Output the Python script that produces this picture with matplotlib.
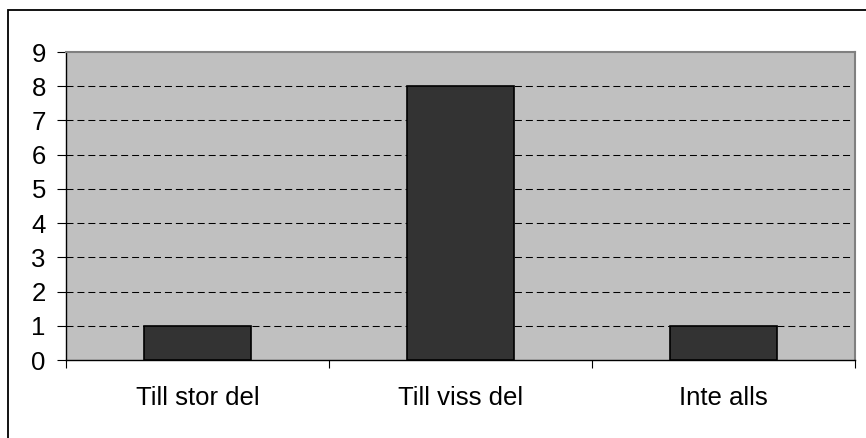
import matplotlib.pyplot as plt
from matplotlib.patches import Rectangle

plt.rcParams['font.family'] = ['Liberation Sans', 'DejaVu Sans']

# data
categories = ['Till stor del', 'Till viss del', 'Inte alls']
values = [1, 8, 1]
yticks = list(range(0, 10))

fig = plt.figure(figsize=(8.66, 4.38), dpi=100)

# outer chart border (only left/top visible in the picture)
fig.add_artist(Rectangle((8 / 866, -0.1), 1.2, (438 - 10) / 438 + 0.1,
                         transform=fig.transFigure, fill=False,
                         edgecolor='black', linewidth=1.3))

ax = fig.add_axes([66 / 866, (438 - 360) / 438, (855 - 66) / 866, (360 - 52) / 438])
ax.set_facecolor('#c0c0c0')

x = range(len(categories))
ax.bar(x, values, width=0.41, color='#333333', edgecolor='black',
       linewidth=1.2, zorder=3)

ax.set_xlim(-0.5, len(categories) - 0.5)
ax.set_ylim(0, 9)
ax.set_yticks(yticks)
ax.set_yticklabels([str(t) for t in yticks], fontsize=18.5)

# gridlines
for t in yticks[1:-1]:
    ax.axhline(t, color='black', linestyle=(0, (6.7, 3.8)), linewidth=0.75, zorder=2)

# category labels at centers, tick marks at boundaries
ax.set_xticks([i - 0.5 for i in range(len(categories) + 1)])
ax.set_xticklabels([])
ax.set_xticks(list(x), minor=True)
ax.set_xticklabels(categories, minor=True, fontsize=18.5)
ax.tick_params(axis='x', which='minor', length=0, pad=19)
ax.tick_params(axis='x', which='major', length=6, direction='out', width=0.8)
ax.tick_params(axis='y', length=6.5, direction='out', width=0.8, pad=8)

for s in ['top', 'right']:
    ax.spines[s].set_color('#808080')
    ax.spines[s].set_linewidth(1.5)
for s in ['left', 'bottom']:
    ax.spines[s].set_color('black')
    ax.spines[s].set_linewidth(1.0)

plt.savefig('out.png', dpi=100)
